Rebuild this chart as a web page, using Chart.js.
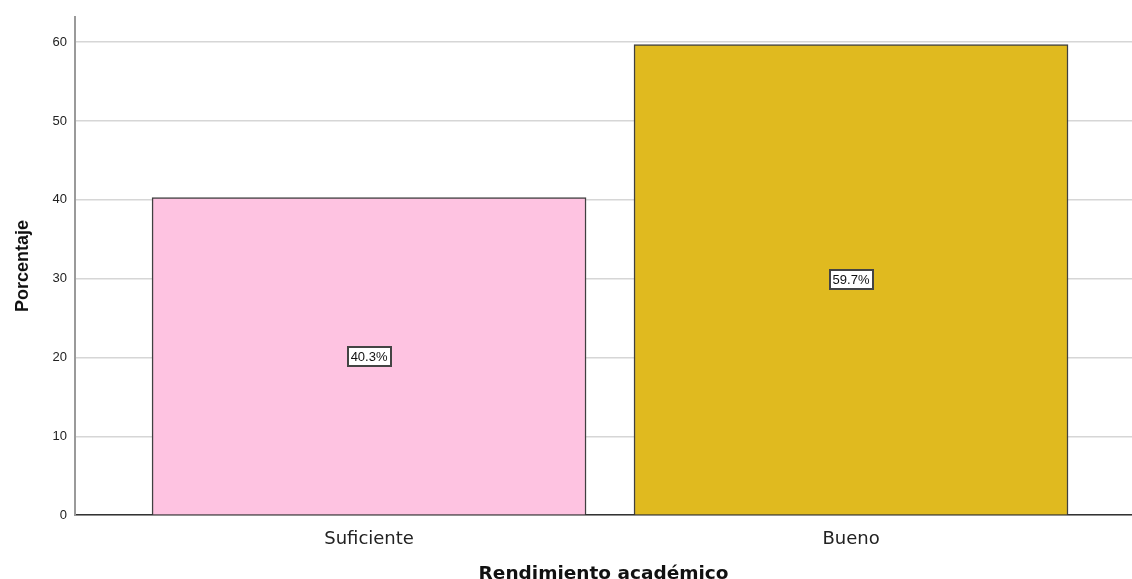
<!DOCTYPE html>
<html>
<head>
<meta charset="utf-8">
<script src="https://cdn.jsdelivr.net/npm/chart.js@4/dist/chart.umd.min.js"></script>
<style>
  html, body { margin: 0; padding: 0; background: #fff; }
  #wrap { width: 1132px; height: 579px; position: relative; }
</style>
</head>
<body>
<div id="wrap"><canvas id="chart"></canvas></div>
<script>
var categories = ['Suficiente', 'Bueno'];
var percentages = [40.3, 59.7];
var yTicks = [0, 10, 20, 30, 40, 50, 60];
var barColors = ['#fec3e1', '#e0ba1f'];

// bars sit at x = 1, 2 on a linear scale so the side margins can match
var points = [];
for (var i = 0; i < categories.length; i++) {
  points.push({ x: i + 1, y: percentages[i] });
}

var boxLabels = {
  id: 'boxLabels',
  afterDatasetsDraw: function(chart) {
    var ctx = chart.ctx;
    var xs = chart.scales.x, ys = chart.scales.y;
    ctx.save();
    ctx.font = '13px "Liberation Sans", Arial, sans-serif';
    ctx.textAlign = 'center';
    ctx.textBaseline = 'middle';
    for (var i = 0; i < points.length; i++) {
      var txt = percentages[i].toFixed(1) + '%';
      var cx = xs.getPixelForValue(points[i].x);
      var cy = ys.getPixelForValue(points[i].y / 2);
      var w = Math.round(ctx.measureText(txt).width + 6);
      var h = 19;
      var bx = Math.round(cx - w / 2), by = Math.round(cy - h / 2);
      ctx.fillStyle = '#fff';
      ctx.fillRect(bx, by, w, h);
      ctx.strokeStyle = '#444';
      ctx.lineWidth = 2;
      ctx.strokeRect(bx, by, w, h);
      ctx.fillStyle = '#111';
      ctx.fillText(txt, cx, cy + 1);
    }
    ctx.restore();
  }
};

new Chart(document.getElementById('chart').getContext('2d'), {
  type: 'bar',
  data: {
    datasets: [{
      data: points,
      backgroundColor: barColors,
      borderColor: '#404040',
      borderWidth: 1.5,
      barThickness: 434
    }]
  },
  options: {
    responsive: true,
    maintainAspectRatio: false,
    animation: false,
    layout: { padding: { top: 17, right: 0, left: 12, bottom: -6 } },
    plugins: { legend: { display: false }, tooltip: { enabled: false } },
    scales: {
      x: {
        type: 'linear',
        offset: false,
        bounds: 'data',
        min: 0.39,
        max: 2.583,
        afterBuildTicks: function(axis) {
          axis.ticks = categories.map(function(c, i) { return { value: i + 1 }; });
        },
        ticks: {
          autoSkip: false,
          maxRotation: 0,
          color: '#222',
          padding: 13,
          font: { size: 18, family: '"DejaVu Sans", sans-serif' },
          callback: function(v) { return categories[v - 1]; }
        },
        grid: { display: false, drawTicks: false, offset: false },
        border: { display: true, color: '#333', width: 1.5 },
        title: {
          display: true,
          text: 'Rendimiento académico',
          color: '#111',
          font: { size: 18.5, weight: 'bold', family: '"DejaVu Sans", sans-serif' },
          padding: { top: 0, bottom: 0 }
        }
      },
      y: {
        min: 0,
        max: 63.2,
        afterBuildTicks: function(axis) {
          axis.ticks = yTicks.map(function(v) { return { value: v }; });
        },
        ticks: {
          color: '#222',
          padding: 8,
          font: { size: 13, family: '"Liberation Sans", Arial, sans-serif' }
        },
        grid: { color: '#d6d6d6', lineWidth: 1.5, drawTicks: false },
        border: { display: true, color: '#9a9a9a', width: 2 },
        title: {
          display: true,
          text: 'Porcentaje',
          color: '#111',
          font: { size: 18, weight: 'bold', family: '"Liberation Sans", Arial, sans-serif' },
          padding: { top: 0, bottom: 11 }
        }
      }
    }
  },
  plugins: [boxLabels]
});
</script>
</body>
</html>
